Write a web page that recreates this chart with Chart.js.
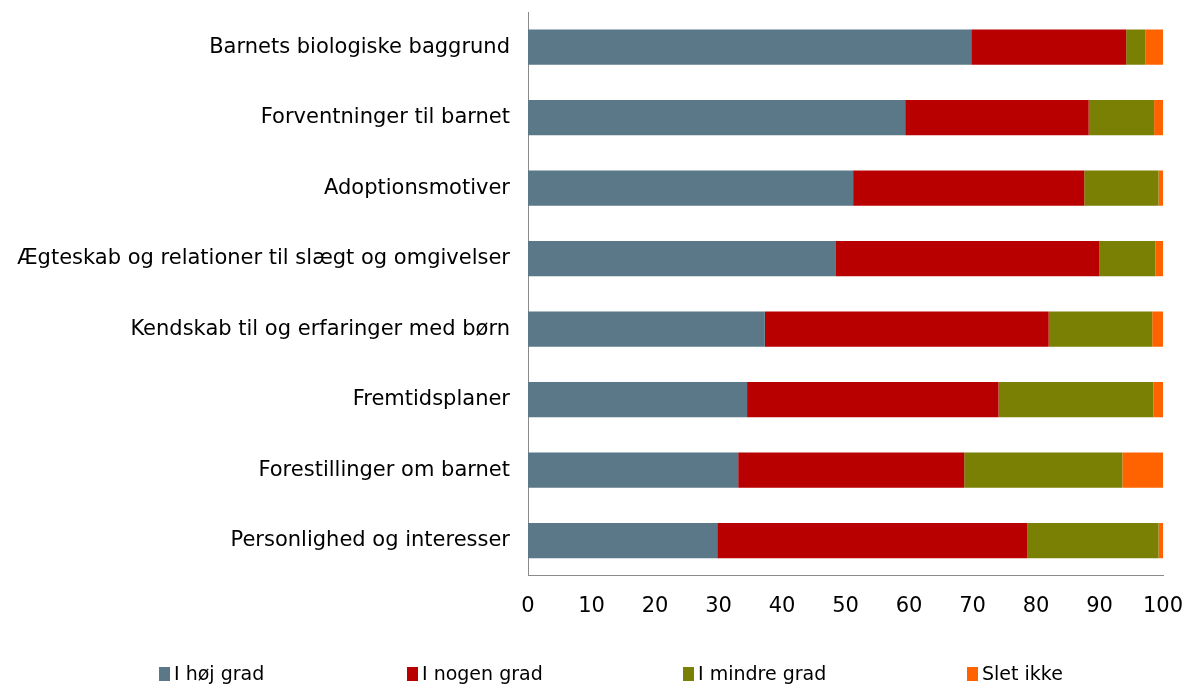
<!DOCTYPE html>
<html>
<head>
<meta charset="utf-8">
<script src="https://cdn.jsdelivr.net/npm/chart.js@4/dist/chart.umd.min.js"></script>
<style>
  html, body { margin: 0; padding: 0; background: #fff; }
  #wrap { width: 1189px; height: 684px; position: relative; }
  #chartBox { position: absolute; left: 0; top: 0; width: 1189px; height: 684px; }
  .leg { position: absolute; top: 663px; height: 20px; font-family: 'DejaVu Sans', Verdana, sans-serif;
         font-size: 19px; line-height: 20px; color: #000; white-space: nowrap; }
  .leg span.box { display: inline-block; width: 11px; height: 14px; margin-right: 4px; vertical-align: -1px; }
</style>
</head>
<body>
<div id="wrap">
  <div id="chartBox"><canvas id="grafico"></canvas></div>
  <div id="legende"></div>
</div>
<script>
// Kategorier og værdier (procent)
const kategorier = [
    'Barnets biologiske baggrund',
    'Forventninger til barnet',
    'Adoptionsmotiver',
    'Ægteskab og relationer til slægt og omgivelser',
    'Kendskab til og erfaringer med børn',
    'Fremtidsplaner',
    'Forestillinger om barnet',
    'Personlighed og interesser'
];
const hoejGrad   = [69.8, 59.4, 51.2, 48.5, 37.3, 34.5, 33.1, 29.8];
const nogenGrad  = [24.4, 28.9, 36.4, 41.5, 44.7, 39.6, 35.6, 48.8];
const mindreGrad = [3.0, 10.3, 11.7, 8.8, 16.3, 24.4, 24.9, 20.7];
const sletIkke   = [2.8, 1.4, 0.7, 1.2, 1.7, 1.5, 6.4, 0.7];
const serieNavne = ['I høj grad', 'I nogen grad', 'I mindre grad', 'Slet ikke'];
const farver = ['#5B7888', '#B80000', '#7A8004', '#FF6300'];
const xTicks = [0, 10, 20, 30, 40, 50, 60, 70, 80, 90, 100];

const FONT = "'DejaVu Sans', Verdana, sans-serif";

function lavDatasaet(navn, data, farve) {
    return {
        label: navn,
        data: data,
        backgroundColor: farve,
        borderWidth: 0,
        barPercentage: 0.5,
        categoryPercentage: 1.0
    };
}

const ctx = document.getElementById('grafico').getContext('2d');
new Chart(ctx, {
    type: 'bar',
    data: {
        labels: kategorier,
        datasets: [
            lavDatasaet(serieNavne[0], hoejGrad, farver[0]),
            lavDatasaet(serieNavne[1], nogenGrad, farver[1]),
            lavDatasaet(serieNavne[2], mindreGrad, farver[2]),
            lavDatasaet(serieNavne[3], sletIkke, farver[3])
        ]
    },
    options: {
        indexAxis: 'y',
        responsive: true,
        maintainAspectRatio: false,
        animation: false,
        layout: { padding: { top: 12, right: 26, left: 0, bottom: 47 } },
        scales: {
            x: {
                stacked: true,
                min: 0,
                max: 100,
                afterBuildTicks: (akse) => { akse.ticks = xTicks.map(v => ({ value: v })); },
                afterFit: (akse) => { akse.paddingLeft = 0; akse.paddingRight = 0; },
                grid: { display: false, drawTicks: false },
                border: { display: true, color: '#8a8a8a', width: 1 },
                ticks: { color: '#000', font: { family: FONT, size: 21 }, padding: 18, maxRotation: 0 }
            },
            y: {
                stacked: true,
                afterFit: (akse) => { akse.width = 528; akse.paddingTop = 0; akse.paddingBottom = 0; },
                grid: { display: false, drawTicks: false },
                border: { display: true, color: '#8a8a8a', width: 1 },
                ticks: { color: '#000', font: { family: FONT, size: 21 }, padding: 18 }
            }
        },
        plugins: {
            legend: { display: false },
            tooltip: { enabled: false }
        }
    }
});

// Legende under figuren
const legendeX = [159, 407, 683, 967];
const legende = document.getElementById('legende');
serieNavne.forEach((navn, i) => {
    const el = document.createElement('div');
    el.className = 'leg';
    el.style.left = legendeX[i] + 'px';
    el.innerHTML = '<span class="box" style="background:' + farver[i] + '"></span>' + navn;
    legende.appendChild(el);
});
</script>
</body>
</html>
